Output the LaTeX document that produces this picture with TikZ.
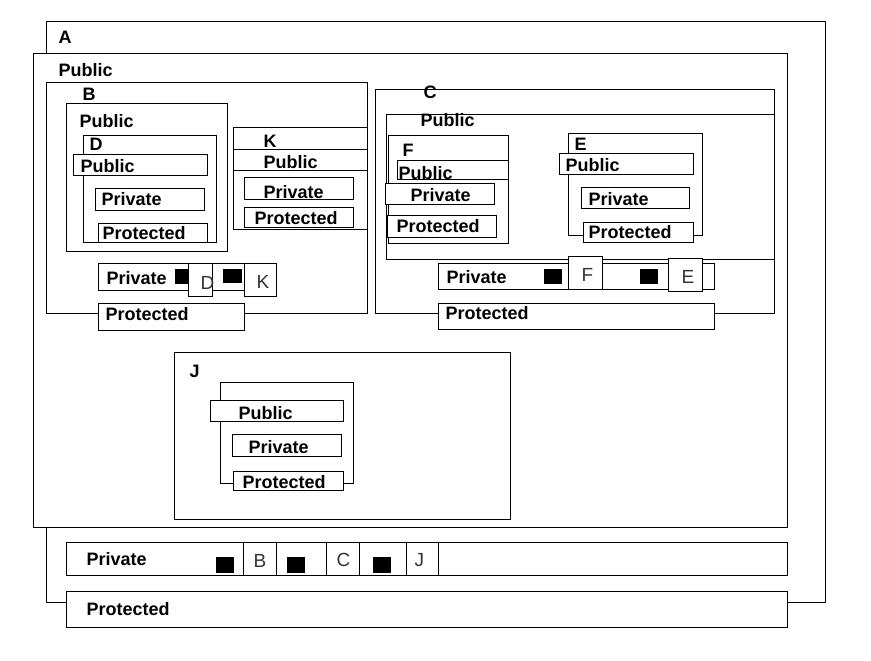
\documentclass[tikz,border=0pt]{standalone}
\usepackage{fontspec}
\setmainfont{Liberation Sans}
\definecolor{lettercol}{HTML}{333333}

\begin{document}
\begin{tikzpicture}[x=1pt,y=-1pt,line width=1pt,
  box/.style={draw=black,fill=white},
  blob/.style={fill=black},
  lbl/.style={anchor=base west,inner sep=0pt,font=\fontsize{18}{20}\selectfont\bfseries},
  letter/.style={anchor=base west,inner sep=0pt,font=\fontsize{19}{21}\selectfont,text=lettercol}]
\useasboundingbox (0,0) rectangle (871,661);
% A and its public part
\draw[box] (46,22) rectangle (825,602);
\draw[box] (33,54) rectangle (787,527);
% B with D and K
\foreach \xa/\ya/\xb/\yb in {
	46/83/367/313, 66/104/227/251, 83/135/216/242,
	73/154/207/175, 95/188/204/210, 98/223/207/242,
	233/127/367/229, 244/177/353/199, 244/207/353/227,
	98/263/244/290, 188/263/212/296, 244/263/276/296,
	98/303/244/330%
	}{
	\draw[box] (\xa,\ya) rectangle (\xb,\yb);
	}
\draw (233,149) -- (367,149);
\draw (233,170) -- (367,170);
\fill[blob] (175,269) rectangle (188,284);
\fill[blob] (223,269) rectangle (242,283);
% C with F and E
\foreach \xa/\ya/\xb/\yb in {
	375/90/774/313, 386/115/774/259,
	388/135/508/243, 397/160/508/179, 385/183/494/204, 387/215/496/237,
	568/133/702/235, 559/153/693/174, 581/187/689/208, 583/222/693/242,
	438/263/714/289, 568/256/602/289, 668/258/702/291,
	438/303/714/329%
	}{
	\draw[box] (\xa,\ya) rectangle (\xb,\yb);
	}
\fill[blob] (544,269) rectangle (562,284);
\fill[blob] (640,269) rectangle (658,284);
% J
\foreach \xa/\ya/\xb/\yb in {
	174/352/510/519, 220/382/353/483,
	210/400/343/421, 232/434/341/456, 233/471/343/490%
	}{
	\draw[box] (\xa,\ya) rectangle (\xb,\yb);
	}
% private and protected parts of A
\foreach \xa/\ya/\xb/\yb in {
	66/542/787/575, 243/542/276/575, 326/542/359/575, 406/542/438/575,
	66/591/787/627%
	}{
	\draw[box] (\xa,\ya) rectangle (\xb,\yb);
	}
\foreach \xa in {216,287,373}{
	\fill[blob] (\xa,557) rectangle +(18,16);
	}
% labels
\foreach \nm/\x/\y/\txt in {
	nameA/58/44/A, pubA/58/77/Public,
	nameB/82/100/B, pubB/79/128/Public,
	nameD/89/150/D, pubD/80/172/Public, privD/101/205/Private, protD/102/239/Protected,
	nameK/263/147/K, pubK/263/168/Public, privK/263/198/Private, protK/254/224/Protected,
	privB/106/284/Private, protB/105/320/Protected,
	nameC/423/99/C, pubC/420/127/Public,
	nameF/402/157/F, pubF/398/179/Public, privF/410/201/Private, protF/396/232/Protected,
	nameE/574/150/E, pubE/565/171/Public, privE/588/205/Private, protE/588/238/Protected,
	privC/446/283/Private, protC/445/319/Protected,
	nameJ/189/377/J, pubJ/238/419/Public, privJ/248/453/Private, protJ/242/488/Protected,
	privA/86/565/Private, protA/86/615/Protected%
	}{
	\node[lbl] (\nm) at (\x,\y) {\txt};
	}
\foreach \nm/\x/\y/\txt in {
	refD/200/289/D, refK/256/288/K, refF/581/281/F, refE/681/283/E,
	refB/253/567/B, refC/336/566/C, refJ/414/566/J%
	}{
	\node[letter] (\nm) at (\x,\y) {\txt};
	}
\end{tikzpicture}
\end{document}
